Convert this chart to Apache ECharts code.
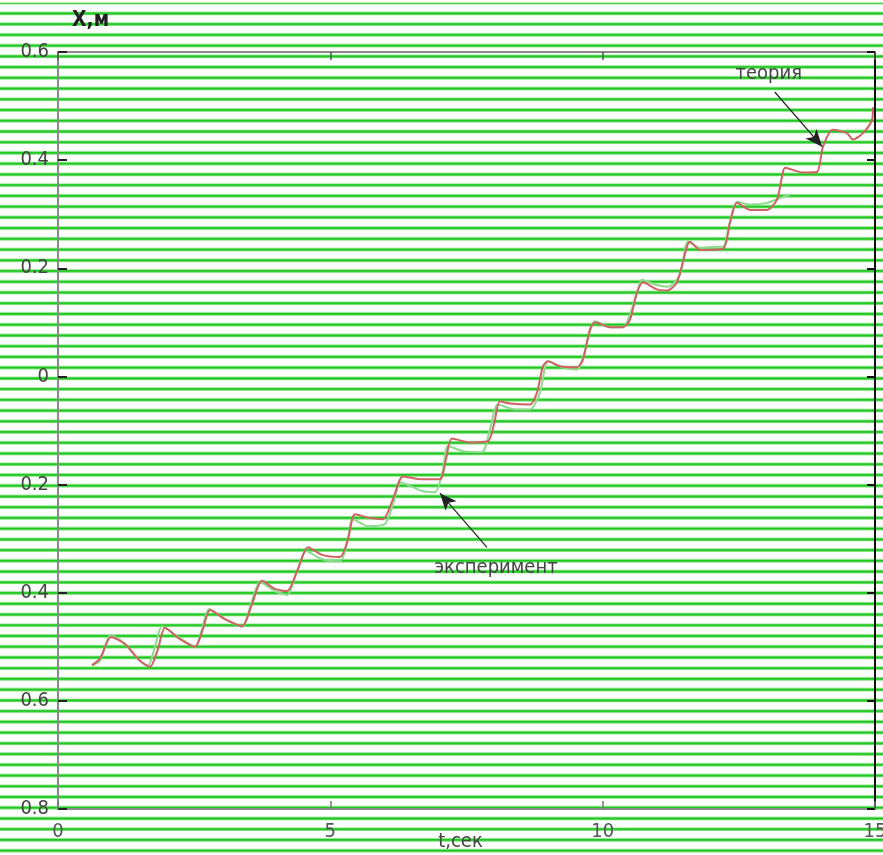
<!DOCTYPE html>
<html>
<head>
<meta charset="utf-8">
<script src="https://cdn.jsdelivr.net/npm/echarts@6/dist/echarts.min.js"></script>
<style>
html,body{margin:0;padding:0;background:#fff;}
#wrap{position:relative;width:883px;height:855px;overflow:hidden;
  background-image:repeating-linear-gradient(to bottom,#1ec81e 0px,#1ec81e 0.8px,#a8eca8 1.5px,#ffffff 2.0px,#ffffff 8.7px,#a8eca8 9.2px,#1ec81e 9.934px,#1ec81e 10.734px);
  background-position:0 2.7px;}
#chart{position:absolute;left:0;top:0;width:883px;height:855px;}
</style>
</head>
<body>
<div id="wrap"><div id="chart"></div></div>
<script>
// ---- data (t in seconds, X in metres) ----
const theoryPoints = [
 [0.624,-0.534],[0.771,-0.522],[0.973,-0.482],[1.230,-0.495],[1.505,-0.526],[1.689,-0.537],[1.836,-0.504],
 [1.964,-0.465],[2.240,-0.486],[2.515,-0.500],[2.662,-0.467],[2.791,-0.432],[3.066,-0.449],[3.378,-0.462],
 [3.562,-0.421],[3.745,-0.378],[3.984,-0.393],[4.204,-0.397],[4.406,-0.356],[4.590,-0.316],[4.847,-0.330],
 [5.177,-0.334],[5.324,-0.301],[5.453,-0.255],[5.728,-0.262],[5.967,-0.264],[6.150,-0.227],[6.334,-0.185],
 [6.646,-0.190],[7.013,-0.190],[7.123,-0.153],[7.233,-0.115],[7.564,-0.122],[7.894,-0.120],[8.004,-0.089],
 [8.115,-0.046],[8.298,-0.050],[8.665,-0.052],[8.794,-0.030],[8.904,0.019],[8.996,0.028],[9.216,0.019],
 [9.528,0.017],[9.638,0.031],[9.767,0.087],[9.859,0.100],[10.134,0.091],[10.373,0.091],[10.501,0.105],
 [10.630,0.155],[10.740,0.174],[10.997,0.161],[11.181,0.159],[11.364,0.174],[11.548,0.240],[11.603,0.249],
 [11.786,0.234],[12.209,0.236],[12.337,0.284],[12.466,0.321],[12.704,0.308],[13.017,0.308],[13.200,0.327],
 [13.292,0.369],[13.347,0.386],[13.678,0.377],[13.934,0.378],[14.045,0.425],[14.228,0.456],[14.485,0.450],
 [14.595,0.438],[14.779,0.450],[14.944,0.474],[14.963,0.498]
];
const experimentPoints = [
 [0.624,-0.535],[0.771,-0.526],[0.973,-0.478],[1.230,-0.495],[1.505,-0.526],[1.652,-0.535],[1.781,-0.500],
 [1.909,-0.462],[2.203,-0.482],[2.515,-0.500],[2.644,-0.467],[2.772,-0.430],[3.066,-0.449],[3.378,-0.463],
 [3.543,-0.421],[3.709,-0.380],[3.984,-0.397],[4.204,-0.404],[4.388,-0.360],[4.553,-0.323],[4.847,-0.338],
 [5.177,-0.342],[5.306,-0.310],[5.416,-0.264],[5.691,-0.277],[6.003,-0.273],[6.150,-0.236],[6.297,-0.196],
 [6.683,-0.212],[6.921,-0.214],[7.068,-0.172],[7.160,-0.129],[7.472,-0.139],[7.784,-0.140],[7.931,-0.098],
 [8.078,-0.052],[8.390,-0.061],[8.665,-0.061],[8.849,-0.030],[8.996,0.028],[9.253,0.017],[9.528,0.013],
 [9.767,0.083],[9.859,0.102],[10.134,0.091],[10.373,0.091],[10.630,0.155],[10.722,0.179],[10.960,0.170],
 [11.199,0.166],[11.419,0.188],[11.566,0.249],[11.786,0.238],[12.062,0.240],[12.209,0.240],[12.337,0.286],
 [12.466,0.323],[12.704,0.318],[13.017,0.321],[13.255,0.330],[13.439,0.336]
];
const xTicks = { min: 0, max: 15, step: 5 };
const yTicks = { min: -0.8, max: 0.6, step: 0.2 };
const xName = 't,сек';
const yName = 'X,м';
const theoryLabel = { text: 'теория', at: [13.05, 0.559], from: [13.16, 0.526], to: [14.03, 0.425] };
const experLabel = { text: 'эксперимент', at: [8.04, -0.353], from: [7.876, -0.316], to: [7.013, -0.216] };

const FONT = "'Liberation Sans Narrow','DejaVu Sans Condensed','Liberation Sans',Arial,sans-serif";
const chart = echarts.init(document.getElementById('chart'), null, { renderer: 'canvas' });

function yFmt(v) {
  const a = Math.abs(v);
  return a < 1e-9 ? '0' : a.toFixed(1);
}

const baseX = { type: 'value', min: xTicks.min, max: xTicks.max, interval: xTicks.step, splitLine: { show: false } };
const baseY = { type: 'value', min: yTicks.min, max: yTicks.max, interval: yTicks.step, splitLine: { show: false } };

chart.setOption({
  animation: false,
  backgroundColor: 'transparent',
  grid: { left: 58, right: 8, top: 52, bottom: 46, containLabel: false, outerBoundsMode: 'none' },
  xAxis: [
    Object.assign({}, baseX, {
      position: 'bottom',
      name: xName, nameLocation: 'middle', nameGap: 23, nameMoveOverlap: false,
      nameTextStyle: { fontFamily: FONT, fontSize: 20, color: '#444', padding: [0, 12, 0, 0] },
      axisLine: { onZero: false, lineStyle: { color: '#8a8a8a', width: 2 } },
      axisTick: { inside: true, length: 8, lineStyle: { color: '#777', width: 1.5 } },
      axisLabel: { fontFamily: FONT, fontSize: 20, color: '#555', margin: 13 }
    }),
    Object.assign({}, baseX, {
      position: 'top',
      axisLine: { onZero: false, lineStyle: { color: '#8a8a8a', width: 2 } },
      axisTick: { inside: true, length: 8, lineStyle: { color: '#555', width: 1.5 } },
      axisLabel: { show: false }
    })
  ],
  yAxis: [
    Object.assign({}, baseY, {
      position: 'left',
      name: yName, nameLocation: 'end', nameGap: 21, nameMoveOverlap: false,
      nameTextStyle: { fontFamily: FONT, fontSize: 21, fontWeight: 'bold', color: '#222', align: 'left', padding: [0, 0, 0, 14] },
      axisLine: { onZero: false, lineStyle: { color: '#8a8a8a', width: 2 } },
      axisTick: { inside: true, length: 9, lineStyle: { color: '#222', width: 2 } },
      axisLabel: { fontFamily: FONT, fontSize: 20, color: '#444', margin: 9, formatter: yFmt }
    }),
    Object.assign({}, baseY, {
      position: 'right',
      axisLine: { onZero: false, lineStyle: { color: '#111', width: 2 } },
      axisTick: { inside: true, length: 8, lineStyle: { color: '#111', width: 2 } },
      axisLabel: { show: false }
    })
  ],
  series: [
    {
      name: 'эксперимент', type: 'line', data: experimentPoints, smooth: 0.25,
      showSymbol: false, symbol: 'none',
      lineStyle: { color: '#8fd88f', width: 2 },
      markLine: {
        silent: true, symbol: ['none', 'arrow'], symbolSize: [11, 17],
        label: { show: false },
        lineStyle: { color: '#222', width: 1.2, type: 'solid' },
        data: [[{ coord: experLabel.from }, { coord: experLabel.to }]]
      }
    },
    {
      name: 'теория', type: 'line', data: theoryPoints, smooth: 0.25,
      showSymbol: false, symbol: 'none',
      lineStyle: { color: '#cf6262', width: 2 },
      markLine: {
        silent: true, symbol: ['none', 'arrow'], symbolSize: [11, 17],
        label: { show: false },
        lineStyle: { color: '#222', width: 1.2, type: 'solid' },
        data: [[{ coord: theoryLabel.from }, { coord: theoryLabel.to }]]
      }
    }
  ]
});

function place(lbl) {
  const p = chart.convertToPixel({ xAxisIndex: 0, yAxisIndex: 0 }, lbl.at);
  return {
    type: 'text', x: p[0], y: p[1],
    style: { text: lbl.text, fontFamily: FONT, fontSize: 20, fill: '#444', align: 'center', verticalAlign: 'middle' }
  };
}
chart.setOption({ graphic: [place(theoryLabel), place(experLabel)] });
</script>
</body>
</html>
